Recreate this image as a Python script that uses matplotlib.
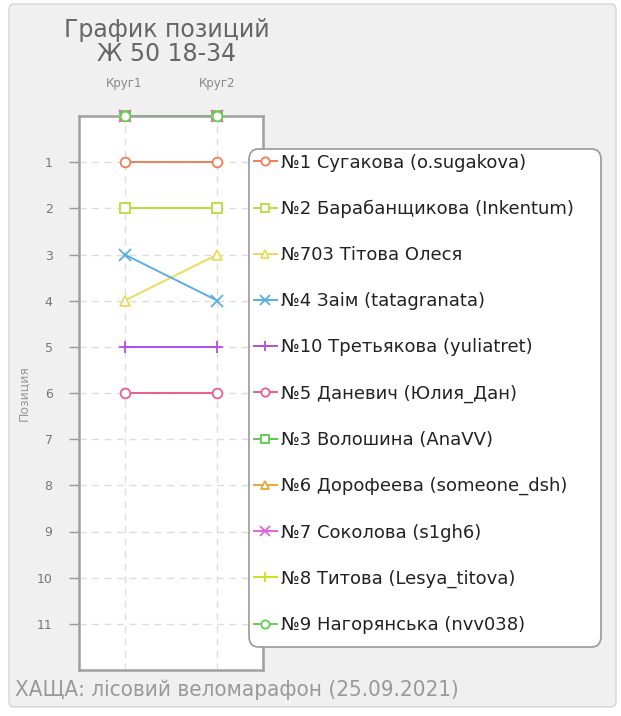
import matplotlib.pyplot as plt
from matplotlib.patches import FancyBboxPatch

rounds = ['Круг1', 'Круг2']

names = ['№1 Сугакова (o.sugakova)', '№2 Барабанщикова (Inkentum)', '№703 Тітова Олеся',
         '№4 Заім (tatagranata)', '№10 Третьякова (yuliatret)', '№5 Даневич (Юлия_Дан)',
         '№3 Волошина (AnaVV)', '№6 Дорофеева (someone_dsh)', '№7 Соколова (s1gh6)',
         '№8 Титова (Lesya_titova)', '№9 Нагорянська (nvv038)']

# позиция по кругам (0 = нет результата)
positions = [[1, 1], [2, 2], [4, 3], [3, 4], [5, 5], [6, 6],
             [0, 0], [0, 0], [0, 0], [0, 0], [0, 0]]

colors = ['#ef7f58', '#b8dc3c', '#e8dc5c', '#5aaee2', '#b24ee8', '#ea5f8c',
          '#58cc48', '#e8a838', '#e264d4', '#cce024', '#66cc58']
markers = ['o', 's', '^', 'x', '+', 'o', 's', '^', 'x', '+', 'o']

fig = plt.figure(figsize=(6.21, 7.16), dpi=100)
fig.patch.set_facecolor('white')

bg = FancyBboxPatch((9 / 621, 9 / 716), 607 / 621, 703 / 716,
                    boxstyle='round,pad=0,rounding_size=0.008',
                    transform=fig.transFigure, facecolor='#f0f0f0',
                    edgecolor='#d4d4d4', linewidth=1, zorder=-10)
fig.patches.append(bg)

ax = fig.add_axes([79 / 621, 46 / 716, 184 / 621, 554 / 716])
ax.set_facecolor('white')

x = list(range(len(rounds)))
handles = []
for pos, c, m in zip(positions, colors, markers):
    filled = m in ('x', '+')
    ln, = ax.plot(x, pos, color=c, linewidth=1.4, zorder=2, clip_on=False)
    mk, = ax.plot(x, pos, linestyle='none', marker=m, markersize=9 if filled else 7,
                  markerfacecolor='white' if not filled else c,
                  markeredgecolor=c, markeredgewidth=1.3, clip_on=False, zorder=3)
    handles.append((ln, mk))

ax.set_xlim(-0.49, 1.49)
ax.set_ylim(12, 0)
ax.set_yticks(range(1, 12))
ax.set_xticks(x)
ax.set_xticklabels(rounds)
ax.xaxis.tick_top()
ax.tick_params(axis='x', colors='#888888', labelsize=8.5, length=0, pad=19)
ax.tick_params(axis='y', colors='#999999', labelcolor='#777777', labelsize=9,
               length=7, width=1, pad=12)
ax.grid(True, color='#dddddd', linestyle=(0, (5, 4)), linewidth=1)
for sp in ax.spines.values():
    sp.set_color('#a0a0a0')
    sp.set_linewidth(1.8)
ax.set_ylabel('Позиция', color='#999999', fontsize=9, labelpad=5)

# рамка легенды
frame = FancyBboxPatch((249 / 621, 1 - 647 / 716), 352 / 621, 498 / 716,
                       boxstyle='round,pad=0,rounding_size=0.015',
                       transform=fig.transFigure, facecolor='white',
                       edgecolor='#999999', linewidth=1.2, zorder=4)
fig.patches.append(frame)

leg = fig.legend(handles, names, loc='upper left', bbox_to_anchor=(249 / 621, 1 - 149 / 716),
                 frameon=False, fontsize=13, labelspacing=1.56,
                 handlelength=1.3, handletextpad=0.2, borderpad=0.25,
                 borderaxespad=0, markerscale=0.85)
leg.set_zorder(5)
for t in leg.get_texts():
    t.set_color('#222222')

fig.text(167 / 621, 1 - 42 / 716, 'График позиций\nЖ 50 18-34', ha='center', va='center',
         fontsize=17, color='#666666', linespacing=1.0)

fig.text(15 / 621, 1 - 690 / 716, 'ХАЩА: лісовий веломарафон (25.09.2021)',
         ha='left', va='center', fontsize=16, color='#999999',
         family=['Liberation Sans Narrow', 'DejaVu Sans'], fontstretch='condensed')

fig.savefig('out.png', dpi=100)
